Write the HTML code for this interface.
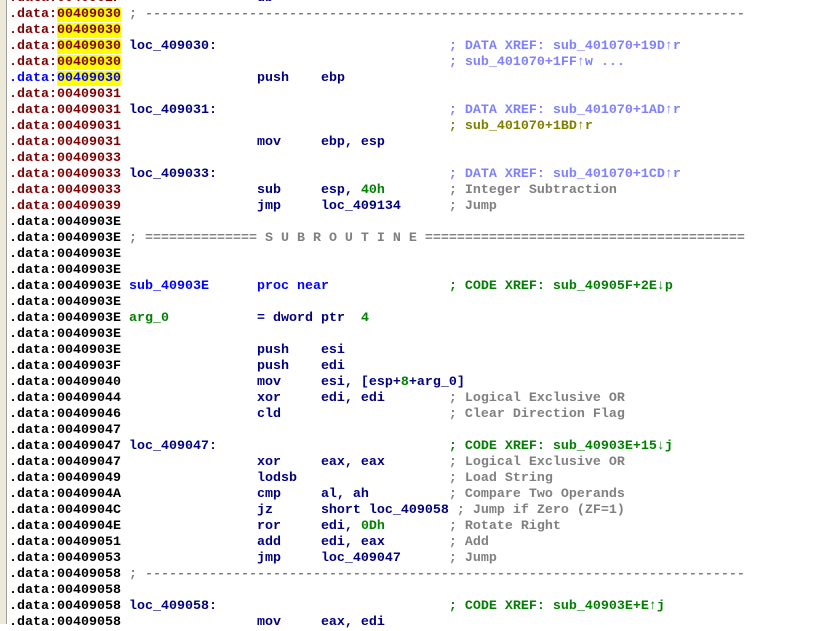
<!DOCTYPE html>
<html><head><meta charset="utf-8"><style>
html,body{margin:0;padding:0;width:822px;height:624px;overflow:hidden;background:#fff;}
#lb{position:absolute;left:0;top:0;width:6px;height:624px;background:#ece9d8;border-right:1px solid #a0a0a0;}
pre{position:absolute;left:9px;top:-9px;margin:0;font-family:"Liberation Mono","DejaVu Sans Mono",monospace;font-weight:bold;font-size:13.33px;line-height:16px;color:#000080;white-space:pre;}
.r{color:#800000}.k{color:#000}.b{color:#0000ff}.y{background:#ffff00}
.g{color:#808080}.x{color:#8080ff}.o{color:#808000}.c{color:#008000}.n{color:#000080}
</style></head><body><div id="lb"></div>
<pre><span class="r">.data:0040902F</span>                 <span class="n">db</span>
<span class="r">.data:<span class="y">00409030</span></span> <span class="g">; ---------------------------------------------------------------------------</span>
<span class="r">.data:<span class="y">00409030</span></span>
<span class="r">.data:<span class="y">00409030</span></span> loc_409030:                             <span class="x">; DATA XREF: sub_401070+19D↑r</span>
<span class="r">.data:<span class="y">00409030</span></span>                                         <span class="x">; sub_401070+1FF↑w ...</span>
<span class="b">.data:<span class="y">00409030</span></span>                 push    ebp
<span class="r">.data:00409031</span>
<span class="r">.data:00409031</span> loc_409031:                             <span class="x">; DATA XREF: sub_401070+1AD↑r</span>
<span class="r">.data:00409031</span>                                         <span class="o">; sub_401070+1BD↑r</span>
<span class="r">.data:00409031</span>                 mov     ebp, esp
<span class="r">.data:00409033</span>
<span class="r">.data:00409033</span> loc_409033:                             <span class="x">; DATA XREF: sub_401070+1CD↑r</span>
<span class="r">.data:00409033</span>                 sub     esp, <span class="c">40h</span>        <span class="g">; Integer Subtraction</span>
<span class="r">.data:00409039</span>                 jmp     loc_409134      <span class="g">; Jump</span>
<span class="k">.data:0040903E</span>
<span class="k">.data:0040903E</span> <span class="g">; ============== S U B R O U T I N E ========================================</span>
<span class="k">.data:0040903E</span>
<span class="k">.data:0040903E</span>
<span class="k">.data:0040903E</span> <span class="b">sub_40903E      proc near</span>               <span class="c">; CODE XREF: sub_40905F+2E↓p</span>
<span class="k">.data:0040903E</span>
<span class="k">.data:0040903E</span> <span class="c">arg_0</span>           = dword ptr  <span class="c">4</span>
<span class="k">.data:0040903E</span>
<span class="k">.data:0040903E</span>                 push    esi
<span class="k">.data:0040903F</span>                 push    edi
<span class="k">.data:00409040</span>                 mov     esi, [esp+<span class="c">8</span>+arg_0]
<span class="k">.data:00409044</span>                 xor     edi, edi        <span class="g">; Logical Exclusive OR</span>
<span class="k">.data:00409046</span>                 cld                     <span class="g">; Clear Direction Flag</span>
<span class="k">.data:00409047</span>
<span class="k">.data:00409047</span> loc_409047:                             <span class="c">; CODE XREF: sub_40903E+15↓j</span>
<span class="k">.data:00409047</span>                 xor     eax, eax        <span class="g">; Logical Exclusive OR</span>
<span class="k">.data:00409049</span>                 lodsb                   <span class="g">; Load String</span>
<span class="k">.data:0040904A</span>                 cmp     al, ah          <span class="g">; Compare Two Operands</span>
<span class="k">.data:0040904C</span>                 jz      short loc_409058 <span class="g">; Jump if Zero (ZF=1)</span>
<span class="k">.data:0040904E</span>                 ror     edi, <span class="c">0Dh</span>        <span class="g">; Rotate Right</span>
<span class="k">.data:00409051</span>                 add     edi, eax        <span class="g">; Add</span>
<span class="k">.data:00409053</span>                 jmp     loc_409047      <span class="g">; Jump</span>
<span class="k">.data:00409058</span> <span class="g">; ---------------------------------------------------------------------------</span>
<span class="k">.data:00409058</span>
<span class="k">.data:00409058</span> loc_409058:                             <span class="c">; CODE XREF: sub_40903E+E↑j</span>
<span class="k">.data:00409058</span>                 mov     eax, edi
</pre></body></html>
